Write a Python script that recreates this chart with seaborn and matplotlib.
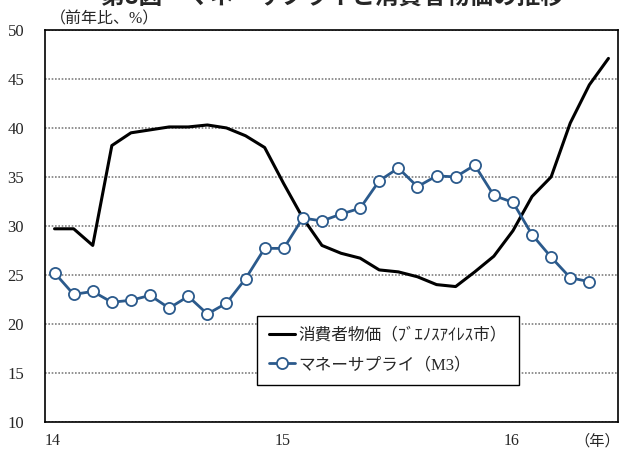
import numpy as np
import pandas as pd
import matplotlib.pyplot as plt
import seaborn as sns

# monthly data, Jan 2014 -> Jun 2016
years = ['14', '15', '16']
cpi = [29.7, 29.7, 28.0, 38.2, 39.5, 39.8, 40.1, 40.1, 40.3, 40.0, 39.2, 38.0,
       34.3, 30.8, 28.0, 27.2, 26.7, 25.5, 25.3, 24.8, 24.0, 23.8, 25.3, 26.9,
       29.5, 33.0, 35.0, 40.5, 44.4, 47.1]
m3 = [25.2, 23.0, 23.3, 22.2, 22.4, 22.9, 21.6, 22.8, 21.0, 22.1, 24.6, 27.7,
      27.7, 30.8, 30.5, 31.2, 31.8, 34.6, 35.9, 34.0, 35.1, 35.0, 36.2, 33.1,
      32.4, 29.1, 26.8, 24.7, 24.3]
cpi_label = '消費者物価（ﾌﾞｴﾉｽｱｲﾚｽ市）'
m3_label = 'マネーサプライ（M3）'

sns.set_style('white')
fonts = ['Liberation Serif', 'Noto Sans CJK JP']
plt.rcParams['font.family'] = fonts

blue = '#2B5A8C'

df_cpi = pd.DataFrame({'month': np.arange(len(cpi)) + 0.5, 'value': cpi})
df_m3 = pd.DataFrame({'month': np.arange(len(m3)) + 0.5, 'value': m3})

fig = plt.figure(figsize=(6.2, 4.5), dpi=100)
ax = fig.add_axes([45 / 620, 1 - 421.7 / 450, 573 / 620, 391.7 / 450])

sns.lineplot(data=df_cpi, x='month', y='value', color='black', lw=2.2,
             ax=ax, label=cpi_label)
sns.lineplot(data=df_m3, x='month', y='value', color=blue, lw=2,
             marker='o', markersize=8, markerfacecolor='white',
             markeredgecolor=blue, markeredgewidth=1.3, ax=ax, label=m3_label)

ax.set_xlim(0, 30)
ax.set_ylim(10, 50)
ax.set_yticks(range(10, 55, 5))
ax.set_xticks([0, 12, 24])
ax.set_xticklabels(years, ha='left')
ax.set_xlabel('')
ax.set_ylabel('')
ax.tick_params(axis='x', direction='in', length=4, width=1, pad=8, labelsize=11.5)
ax.tick_params(axis='y', length=0, pad=15, labelsize=12)
ax.grid(axis='y', linestyle=(0, (1, 1)), color='#7f7f7f', lw=1.2)
for s in ax.spines.values():
    s.set_color('black')
    s.set_linewidth(1.2)

leg = ax.legend(loc='upper left', bbox_to_anchor=(0.370, 0.270), borderaxespad=0,
                frameon=True, fancybox=False, edgecolor='black', framealpha=1,
                handlelength=1.6, handletextpad=0.2, labelspacing=0.8,
                borderpad=0.7, prop={'family': fonts, 'size': 12})
leg.get_frame().set_linewidth(1.0)

fig.text(50 / 620, 1 - 19 / 450, '（前年比、%）', fontsize=11.5, ha='left', va='center')
fig.text(1.0, 1 - 441 / 450, '（年）', fontsize=11, ha='right', va='center')
fig.text(332 / 620, 1 + 3 / 450, '第8図　マネーサプライと消費者物価の推移',
         fontsize=17, fontweight='bold', ha='center', va='center',
         family=['Noto Sans CJK JP', 'DejaVu Sans'])

fig.savefig('out.png', dpi=100)
